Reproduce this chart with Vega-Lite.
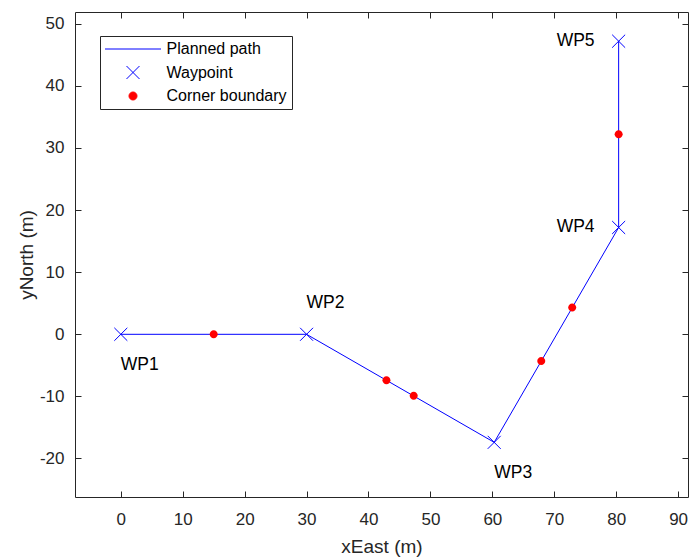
{
  "$schema": "https://vega.github.io/schema/vega-lite/v6.json",
  "width": 613,
  "height": 485,
  "autosize": "none",
  "padding": {"left": 75, "top": 12, "right": 1, "bottom": 61},
  "background": "white",
  "config": {
    "font": "Liberation Sans",
    "view": {"stroke": "#262626", "strokeWidth": 1},
    "axis": {
      "grid": false,
      "domain": false,
      "tickColor": "#262626",
      "tickSize": -6,
      "tickWidth": 1,
      "labelColor": "#262626",
      "labelFont": "Liberation Sans",
      "labelFontSize": 17,
      "labelExpr": "toString(datum.value)",
      "titleFont": "Liberation Sans",
      "titleFontSize": 19,
      "titleFontWeight": "normal",
      "titleColor": "#262626"
    },
    "legend": {
      "labelFont": "Liberation Sans",
      "labelFontSize": 16,
      "labelColor": "#000000",
      "labelOffset": 5,
      "padding": 4.5,
      "rowPadding": 6.5,
      "clipHeight": 17,
      "symbolSize": 3136,
      "strokeColor": "#262626",
      "fillColor": "white",
      "symbolStrokeWidth": 1
    }
  },
  "resolve": {"axis": {"x": "independent", "y": "independent"}},
  "datasets": {
    "waypoints": [
      {"name": "WP1", "xEast": 0, "yNorth": 0, "kind": "Waypoint"},
      {"name": "WP2", "xEast": 30, "yNorth": 0, "kind": "Waypoint"},
      {"name": "WP3", "xEast": 60.3, "yNorth": -17.4, "kind": "Waypoint"},
      {"name": "WP4", "xEast": 80.4, "yNorth": 17.2, "kind": "Waypoint"},
      {"name": "WP5", "xEast": 80.4, "yNorth": 47.2, "kind": "Waypoint"}
    ],
    "corners": [
      {"xEast": 15, "yNorth": 0, "kind": "Corner boundary"},
      {"xEast": 42.9, "yNorth": -7.4, "kind": "Corner boundary"},
      {"xEast": 47.3, "yNorth": -9.9, "kind": "Corner boundary"},
      {"xEast": 67.9, "yNorth": -4.3, "kind": "Corner boundary"},
      {"xEast": 72.9, "yNorth": 4.3, "kind": "Corner boundary"},
      {"xEast": 80.4, "yNorth": 32.2, "kind": "Corner boundary"}
    ]
  },
  "layer": [
    {
      "data": {"name": "waypoints"},
      "mark": {"type": "line", "strokeWidth": 1},
      "encoding": {
        "x": {
          "field": "xEast", "type": "quantitative",
          "scale": {"domain": [-7.4, 91.6], "nice": false, "zero": false},
          "axis": {"orient": "bottom", "values": [0, 10, 20, 30, 40, 50, 60, 70, 80, 90], "title": "xEast (m)", "labelPadding": 20, "titlePadding": 10}
        },
        "y": {
          "field": "yNorth", "type": "quantitative",
          "scale": {"domain": [-26.2, 51.9], "nice": false, "zero": false},
          "axis": {"orient": "left", "values": [-20, -10, 0, 10, 20, 30, 40, 50], "title": "yNorth (m)", "labelPadding": 17, "titlePadding": 3}
        },
        "order": {"field": "name"},
        "color": {
          "datum": "Planned path",
          "scale": {"domain": ["Planned path", "Waypoint", "Corner boundary"], "range": ["#0000ff", "#0000ff", "#ff0000"]},
          "legend": {
            "title": null,
            "orient": "none",
            "legendX": 25,
            "legendY": 24,
            "symbolSize": 3136,
            "encode": {
              "symbols": {
                "update": {
                  "fill": {"signal": "datum.value === 'Corner boundary' ? '#ff0000' : 'transparent'"},
                  "stroke": {"signal": "datum.value === 'Corner boundary' ? 'transparent' : '#0000ff'"},
                  "strokeWidth": {"value": 1},
                  "opacity": {"value": 1}
                }
              }
            }
          }
        }
      }
    },
    {
      "data": {"name": "waypoints"},
      "mark": {"type": "point", "filled": false, "size": 3136, "strokeWidth": 1, "opacity": 1},
      "encoding": {
        "x": {"field": "xEast", "type": "quantitative", "axis": {"orient": "top", "values": [0, 10, 20, 30, 40, 50, 60, 70, 80, 90], "labels": false, "title": null}},
        "y": {"field": "yNorth", "type": "quantitative", "axis": {"orient": "right", "values": [-20, -10, 0, 10, 20, 30, 40, 50], "labels": false, "title": null}},
        "color": {"field": "kind", "type": "nominal"},
        "shape": {
          "field": "kind", "type": "nominal",
          "scale": {
            "domain": ["Planned path", "Waypoint", "Corner boundary"],
            "range": [
              "stroke",
              "M-0.232,-0.232L0.232,0.232M-0.232,0.232L0.232,-0.232",
              "M0.143,0A0.143,0.143,0,1,1,-0.143,0A0.143,0.143,0,1,1,0.143,0Z"
            ]
          },
          "legend": {"title": null, "orient": "none", "legendX": 25, "legendY": 24, "symbolSize": 3136}
        }
      }
    },
    {
      "data": {"name": "corners"},
      "mark": {"type": "point", "filled": true, "size": 3136, "opacity": 1},
      "encoding": {
        "x": {"field": "xEast", "type": "quantitative", "axis": null},
        "y": {"field": "yNorth", "type": "quantitative", "axis": null},
        "color": {"field": "kind", "type": "nominal"},
        "shape": {"field": "kind", "type": "nominal"}
      }
    },
    {
      "data": {"name": "waypoints"},
      "transform": [{"filter": "datum.name === 'WP1' || datum.name === 'WP3'"}],
      "mark": {"type": "text", "align": "left", "baseline": "middle", "dy": 31, "fontSize": 17.5, "color": "#000000"},
      "encoding": {
        "x": {"field": "xEast", "type": "quantitative", "axis": null},
        "y": {"field": "yNorth", "type": "quantitative", "axis": null},
        "text": {"field": "name"}
      }
    },
    {
      "data": {"name": "waypoints"},
      "transform": [{"filter": "datum.name === 'WP2'"}],
      "mark": {"type": "text", "align": "left", "baseline": "middle", "dy": -31, "fontSize": 17.5, "color": "#000000"},
      "encoding": {
        "x": {"field": "xEast", "type": "quantitative", "axis": null},
        "y": {"field": "yNorth", "type": "quantitative", "axis": null},
        "text": {"field": "name"}
      }
    },
    {
      "data": {"name": "waypoints"},
      "transform": [{"filter": "datum.name === 'WP4' || datum.name === 'WP5'"}],
      "mark": {"type": "text", "align": "left", "baseline": "middle", "dx": -62, "fontSize": 17.5, "color": "#000000"},
      "encoding": {
        "x": {"field": "xEast", "type": "quantitative", "axis": null},
        "y": {"field": "yNorth", "type": "quantitative", "axis": null},
        "text": {"field": "name"}
      }
    }
  ]
}
